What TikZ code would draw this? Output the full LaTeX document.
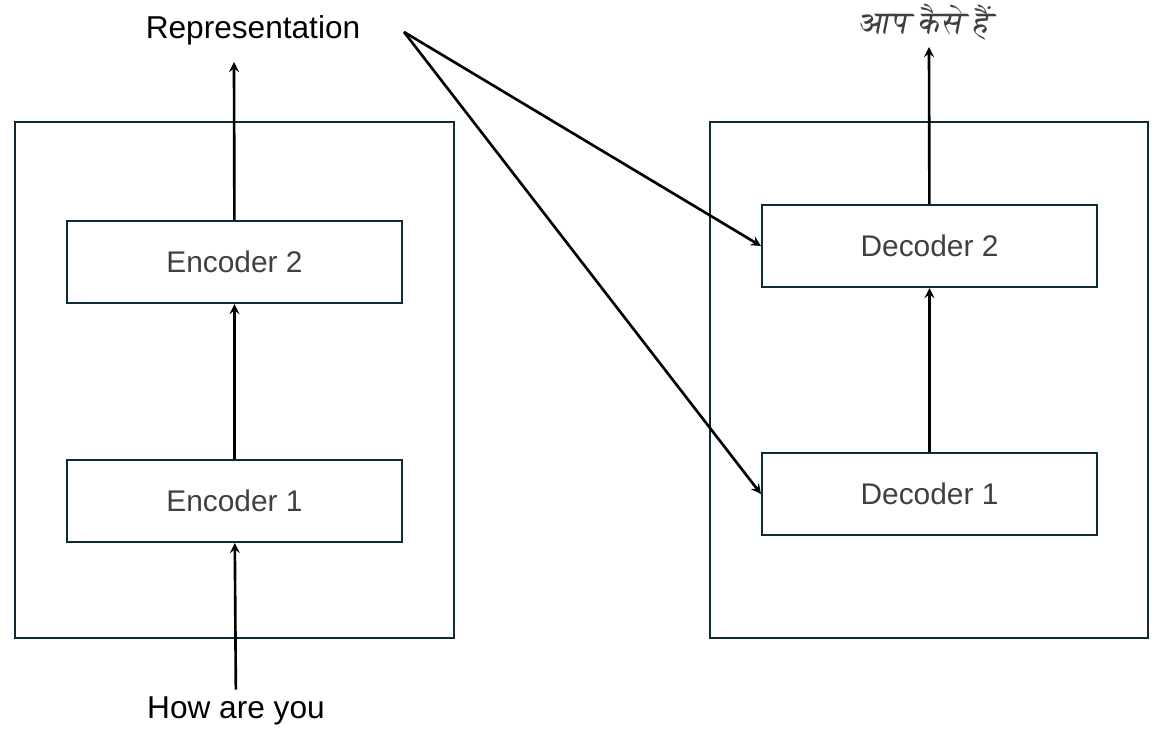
\documentclass[tikz,border=0pt]{standalone}
\usepackage{fontspec}
\setmainfont{Liberation Sans}
\IfFontExistsTF{FreeSerif}
  {\newfontfamily\deva[Script=Devanagari,FakeSlant=0.2]{FreeSerif}}
  {\IfFontExistsTF{Lohit Devanagari}
    {\newfontfamily\deva[Script=Devanagari,FakeSlant=0.2]{Lohit Devanagari}}
    {\IfFontExistsTF{Shobhika-Regular.otf}
      {\newfontfamily\deva[Script=Devanagari,FakeSlant=0.2]{Shobhika-Regular.otf}}
      {\newfontfamily\deva[FakeSlant=0.2]{Liberation Sans}}}}
\usetikzlibrary{positioning}
\definecolor{boxline}{HTML}{0E2A35}
\definecolor{labelgray}{HTML}{404040}
\begin{document}
\begin{tikzpicture}[x=0.02cm,y=-0.02cm,>=stealth,line width=1.5pt,
    frame/.style={draw=boxline,line width=1.2pt},
    block/.style={draw=boxline,line width=1.2pt,minimum width=6.7cm,minimum height=1.64cm,text=labelgray,font=\fontsize{17}{20}\selectfont},
    word/.style={font=\fontsize{18}{22}\selectfont}]
    \useasboundingbox (0,0) rectangle (1160,734);

    % outer frames
    \draw[frame] (15,122) rectangle (454,638);
    \draw[frame] (710,122) rectangle (1148,638);

    % encoder side
    \node[block] (E1) at (234.5,501) {Encoder 1};
    \node[block] (E2) at (234.5,262) {Encoder 2};
    \node[word] (In) at (236,711) {How are you};
    \node[word] (Rep) at (253,30) {Representation};
    \coordinate (RepOut) at (234,62);
    \coordinate (RepTip) at (404,32);

    % decoder side
    \node[block] (D1) at (929.5,494) {Decoder 1};
    \node[block] (D2) at (929.5,246) {Decoder 2};
    \node[word,text=labelgray] (Out) at (925,22) {\deva आप कैसे हैं};
    \coordinate (OutIn) at (929,47);

    \draw[->] (In) -- (E1);
    \draw[->] (E1) -- (E2);
    \draw[->] (E2) -- (RepOut);
    \draw[->] (RepTip) -- (D2.west);
    \draw[->] (RepTip) -- (D1.west);
    \draw[->] (D1) -- (D2);
    \draw[->] (D2) -- (OutIn);
\end{tikzpicture}
\end{document}
